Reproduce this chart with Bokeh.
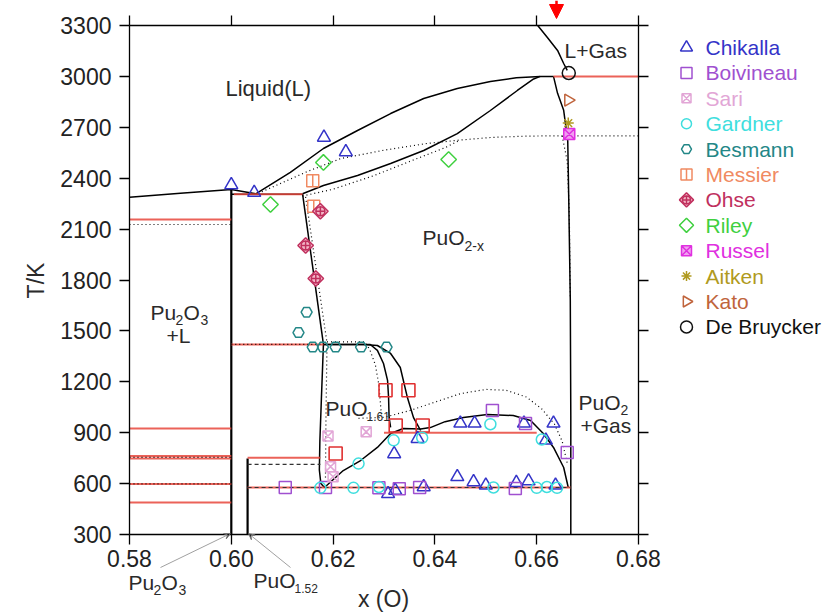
import math
from bokeh.plotting import figure
from bokeh.models import (LinearAxis, Label, Arrow, NormalHead, VeeHead,
                          FixedTicker, PrintfTickFormatter, CustomJSTickFormatter, Range1d)
from bokeh.core.properties import value
from bokeh.embed import file_html
from bokeh.resources import INLINE

FONT = "Liberation Sans"

# ---------------- axes ----------------
x_min, x_max = 0.58, 0.68
T_min, T_max = 300, 3300
x_ticks = [0.58, 0.60, 0.62, 0.64, 0.66, 0.68]
y_ticks = [300, 600, 900, 1200, 1500, 1800, 2100, 2400, 2700, 3000, 3300]

# ---------------- solid phase boundaries ----------------
liq_left_x = [0.58, 0.59, 0.60, 0.6048]
liq_left_T = [2287, 2311, 2334, 2308]
eut_x = [0.60, 0.6140]
eut_T = [2305, 2305]
liquidus_x = [0.6048, 0.6116, 0.6181, 0.6248, 0.6313, 0.6378, 0.6444, 0.6509, 0.6560, 0.6607, 0.6633]
liquidus_T = [2308, 2434, 2575, 2681, 2781, 2870, 2929, 2970, 2992, 3000, 3000]
solidus_x = [0.6140, 0.6181, 0.6248, 0.6313, 0.6378, 0.6444, 0.6509, 0.6562, 0.6594, 0.6607]
solidus_T = [2308, 2357, 2416, 2487, 2563, 2663, 2799, 2917, 2985, 3000]
right_x = [0.6633, 0.6641, 0.6653, 0.6661, 0.6663, 0.6666, 0.6667, 0.6667]
right_T = [3000, 2900, 2800, 2620, 2270, 1680, 1000, 300]
gas_x = [0.6602, 0.6621, 0.6641, 0.6653, 0.6660]
gas_T = [3300, 3229, 3153, 3076, 3035]
pu2o3_x = [0.60, 0.60]
pu2o3_T = [300, 2334]
puo152_x = [0.6032, 0.6032]
puo152_T = [300, 748]
puo2x_left_x = [0.6140, 0.6181]
puo2x_left_T = [2308, 1420]
puo161_left_x = [0.6181, 0.6177, 0.6174, 0.6173, 0.6176, 0.6183]
puo161_left_T = [1420, 1100, 850, 680, 600, 577]
puo161_right_x = [0.6181, 0.6273, 0.6287, 0.6299, 0.6307, 0.6309, 0.6310, 0.6313]
puo161_right_T = [1420, 1420, 1385, 1308, 1208, 1107, 990, 931]
outer_x = [0.6181, 0.6260, 0.6287, 0.6313, 0.6332, 0.6346, 0.6358, 0.6372]
outer_T = [1420, 1420, 1414, 1367, 1284, 1107, 989, 913]
dome_x = [0.6183, 0.6220, 0.6254, 0.6287, 0.6313, 0.6338, 0.6372, 0.6391, 0.6420, 0.6456,
          0.6503, 0.6554, 0.6588, 0.6613, 0.6633, 0.6653, 0.6662]
dome_T = [577, 677, 736, 813, 895, 925, 922, 930, 965, 990,
          1007, 1001, 972, 895, 813, 695, 577]

# ---------------- red invariant lines ----------------
red_lines = [
    ([0.6633, 0.68], [3000, 3000]),
    ([0.6005, 0.6140], [2305, 2305]),
    ([0.58, 0.60], [2157, 2157]),
    ([0.60, 0.6181], [1420, 1420]),
    ([0.58, 0.60], [925, 925]),
    ([0.58, 0.60], [762, 762]),
    ([0.58, 0.60], [748, 748]),
    ([0.58, 0.60], [598, 598]),
    ([0.58, 0.60], [488, 488]),
    ([0.6032, 0.6175], [752, 752]),
    ([0.6032, 0.6667], [577, 577]),
    ([0.6300, 0.6600], [900, 900]),
]

# ---------------- dotted (second assessment) ----------------
dot_lines = [
    ([0.58, 0.60], [2127, 2127]),
    ([0.58, 0.60], [755, 755]),
    ([0.58, 0.60], [598, 598]),
    ([0.60, 0.6181], [1420, 1420]),
    ([0.6060, 0.6150, 0.6215, 0.6300, 0.6385, 0.6450, 0.6509, 0.6580, 0.6647, 0.68],
     [2320, 2440, 2516, 2565, 2605, 2625, 2640, 2648, 2650, 2650]),
    ([0.6140, 0.6200, 0.6280, 0.6360, 0.6420, 0.6450],
     [2295, 2335, 2415, 2510, 2580, 2625]),
    ([0.6650, 0.6660, 0.6664, 0.6666], [2650, 2500, 2200, 1700]),
    ([0.6146, 0.6188], [2290, 1430]),
    ([0.6188, 0.6262, 0.6272, 0.6283, 0.6290, 0.6295], [1435, 1435, 1390, 1300, 1180, 1000]),
    ([0.6188, 0.6186, 0.6185], [1420, 1000, 620]),
    ([0.6250, 0.6300, 0.6350, 0.6400, 0.6450, 0.6500, 0.6540, 0.6580, 0.6610, 0.6635, 0.6650, 0.6660],
     [985, 990, 1030, 1080, 1130, 1155, 1150, 1110, 1040, 950, 850, 720]),
]
dash_lines = [
    ([0.6032, 0.6175], [713, 713]),
    ([0.6032, 0.6667], [577, 577]),
]

# ---------------- experimental data ----------------
chikalla_x = [0.6000, 0.6045, 0.6182, 0.6225, 0.6320, 0.6366, 0.6308, 0.6322, 0.6378, 0.6450,
              0.6478, 0.6575, 0.6633, 0.6618, 0.6444, 0.6476, 0.6584, 0.6637, 0.6560, 0.6500]
chikalla_T = [2360, 2315, 2640, 2555, 775, 865, 540, 560, 580, 955,
              955, 955, 955, 855, 640, 610, 615, 590, 605, 590]
boivineau_x = [0.6106, 0.6185, 0.6290, 0.6330, 0.6370, 0.6513, 0.6578, 0.6558, 0.6660]
boivineau_T = [577, 577, 575, 570, 577, 1031, 954, 571, 783]
sari_x = [0.6190, 0.6195, 0.6265, 0.6200]
sari_T = [880, 700, 905, 640]
gardner_x = [0.6175, 0.6240, 0.6290, 0.6250, 0.6319, 0.6509, 0.6515, 0.6600, 0.6620, 0.6640, 0.6375, 0.6610]
gardner_T = [575, 575, 580, 718, 855, 950, 577, 575, 580, 575, 870, 860]
besmann_x = [0.6132, 0.6148, 0.6160, 0.6180, 0.6205, 0.6255, 0.6305]
besmann_T = [1490, 1610, 1405, 1405, 1405, 1405, 1405]
messier_x = [0.6160, 0.6162]
messier_T = [2385, 2235]
ohse_x = [0.6175, 0.6146, 0.6166]
ohse_T = [2205, 2003, 1809]
riley_x = [0.6077, 0.6181, 0.6427]
riley_T = [2245, 2493, 2510]
russel_x = [0.6664]
russel_T = [2660]
aitken_x = [0.6662]
aitken_T = [2725]
kato_x = [0.6662]
kato_T = [2860]
debruycker_x = [0.6663]
debruycker_T = [3020]
redsq_x = [0.6205, 0.6303, 0.6348, 0.6323, 0.6376]
redsq_T = [777, 1150, 1150, 942, 942]

# ---------------- layout geometry (pixels) ----------------
W, H = 826, 613
PLOT_L, PLOT_R, PLOT_T, PLOT_B = 129, 638, 25, 534
kx = (x_max - x_min) / (PLOT_R - PLOT_L)
ky = (T_max - T_min) / (PLOT_B - PLOT_T)
xr = Range1d(x_min - PLOT_L * kx, x_max + (W - PLOT_R) * kx)
yr = Range1d(T_min - (H - PLOT_B) * ky, T_max + PLOT_T * ky)

def px_x(px):
    return x_min + (px - PLOT_L) * kx

def px_y(py):
    return T_max - (py - PLOT_T) * ky

p = figure(width=W, height=H, x_range=xr, y_range=yr,
           output_backend="svg", toolbar_location=None, min_border=0)
p.grid.visible = False
p.outline_line_color = None
p.background_fill_color = "white"
p.border_fill_color = "white"

def style_axis(ax):
    ax.axis_line_color = "black"
    ax.axis_line_width = 1.3
    ax.major_tick_line_color = "black"
    ax.major_tick_line_width = 1.3
    ax.major_tick_out = 10
    ax.major_tick_in = 0
    ax.minor_tick_line_color = None
    ax.major_label_text_font = FONT
    ax.major_label_text_font_size = "23px"
    ax.major_label_text_color = "#222222"

bottom = p.xaxis[0]
left = p.yaxis[0]
bottom.ticker = FixedTicker(ticks=x_ticks)
bottom.formatter = PrintfTickFormatter(format="%.2f")
bottom.fixed_location = T_min
bottom.bounds = (x_min, x_max)
left.ticker = FixedTicker(ticks=y_ticks)
left.fixed_location = x_min
left.bounds = (T_min, T_max)
style_axis(bottom); style_axis(left)
bottom.major_label_standoff = 5
left.major_label_standoff = 8

top = LinearAxis(ticker=FixedTicker(ticks=x_ticks), formatter=CustomJSTickFormatter(code="return ''"),
                 fixed_location=T_max, bounds=(x_min, x_max))
right = LinearAxis(ticker=FixedTicker(ticks=y_ticks), formatter=CustomJSTickFormatter(code="return ''"),
                   fixed_location=x_max, bounds=(T_min, T_max))
for ax in (top, right):
    style_axis(ax)
    ax.major_label_standoff = 0
p.add_layout(top, "above")
p.add_layout(right, "right")

# lines
BLACK = "black"
RED = "#e8463c"
for xs, ts in [(liq_left_x, liq_left_T), (eut_x, eut_T), (liquidus_x, liquidus_T), (solidus_x, solidus_T),
               (right_x, right_T), (gas_x, gas_T),
               (puo2x_left_x, puo2x_left_T), (puo161_left_x, puo161_left_T),
               (puo161_right_x, puo161_right_T), (outer_x, outer_T), (dome_x, dome_T)]:
    p.line(xs, ts, line_color=BLACK, line_width=1.5)
p.line(pu2o3_x, pu2o3_T, line_color=BLACK, line_width=2.2)
p.line(puo152_x, puo152_T, line_color=BLACK, line_width=2.2)
for xs, ts in red_lines:
    p.line(xs, ts, line_color=RED, line_width=2, alpha=0.85)
for xs, ts in dot_lines:
    p.line(xs, ts, line_color=BLACK, line_width=1.2, line_dash="1 3")
for xs, ts in dash_lines:
    p.line(xs, ts, line_color="#333333", line_width=1.2, line_dash="4 3")

# markers + legend entries drawn in the right margin
LEG_X, LEG_TX, LEG_Y0, LEG_DY = 686, 705, 47, 25.4
series = []

def draw(xs, ts, color, marker, size, fill=None, lw=1.5, angle=0.0, extra=None):
    p.scatter(x=xs, y=ts, marker=marker, size=size, line_color=color,
              fill_color=fill if fill else None, line_width=lw, angle=angle)
    if extra:
        p.scatter(x=xs, y=ts, marker=extra[0], size=extra[1], line_color=color,
                  fill_color=None, line_width=lw, angle=extra[2])

def add(name, xs, ts, color, marker, size, **kw):
    draw(xs, ts, color, marker, size, **kw)
    i = len(series)
    series.append(name)
    lx, ly = [px_x(LEG_X)], [px_y(LEG_Y0 + LEG_DY * i)]
    kw2 = dict(kw)
    if "extra" in kw2 and kw2["extra"]:
        e = kw2["extra"]
        kw2["extra"] = (e[0], e[1] - 1, e[2])
    draw(lx, ly, color, marker, size - 1, **kw2)
    p.text(x=[px_x(LEG_TX)], y=ly, text=[name], text_color=color, text_font=value(FONT),
           text_font_size="21px", text_baseline="middle", text_align="left")

p.scatter(redsq_x, redsq_T, marker="square", size=13, line_color="#e03030", fill_color=None, line_width=1.6)
add("Chikalla", chikalla_x, chikalla_T, "#3434c8", "triangle", 13)
add("Boivineau", boivineau_x, boivineau_T, "#a050d0", "square", 12)
add("Sari", sari_x, sari_T, "#e2a6d6", "square_x", 10)
add("Gardner", gardner_x, gardner_T, "#3fdede", "circle", 11)
add("Besmann", besmann_x, besmann_T, "#238787", "hex", 11)
add("Messier", messier_x, messier_T, "#f08a62", "square", 12, extra=("dash", 12, math.pi / 2))
add("Ohse", ohse_x, ohse_T, "#c0305e", "square", 11, fill="#f4b8c8", angle=math.pi / 4,
    extra=("circle_cross", 9, 0.0))
add("Riley", riley_x, riley_T, "#3fd03f", "square", 11, angle=math.pi / 4)
add("Russel", russel_x, russel_T, "#e030e0", "square_x", 11, fill="#f0a0f0")
add("Aitken", aitken_x, aitken_T, "#b09a20", "asterisk", 11)
add("Kato", kato_x, kato_T, "#c0643c", "triangle", 12, angle=-math.pi / 2)
add("De Bruycker", debruycker_x, debruycker_T, "#111111", "circle", 13)

# text labels
def lab(x, y, text, size="21px", align="left", xo=0, yo=0, angle=0, color="#2a2a2a"):
    p.add_layout(Label(x=x, y=y, text=text, text_font=FONT, text_font_size=size, text_color=color,
                       text_align=align, text_baseline="middle", x_offset=xo, y_offset=yo, angle=angle))

lab(px_x(225), px_y(88), "Liquid(L)", size="22px")
lab(px_x(564), px_y(50), "L+Gas")
lab(px_x(422), px_y(237), "PuO")
lab(px_x(422), px_y(237), "2-x", size="14px", xo=42, yo=-8)
lab(px_x(150), px_y(312), "Pu")
lab(px_x(150), px_y(312), "2", size="14px", xo=25, yo=-7)
lab(px_x(150), px_y(312), "O", xo=33)
lab(px_x(150), px_y(312), "3", size="14px", xo=50, yo=-7)
lab(px_x(178), px_y(335), "+L", align="center")
lab(px_x(325), px_y(408), "PuO")
lab(px_x(325), px_y(408), "1.61", size="12px", xo=41, yo=-8)
lab(px_x(578), px_y(402), "PuO")
lab(px_x(578), px_y(402), "2", size="14px", xo=42, yo=-7)
lab(px_x(580), px_y(425), "+Gas")
lab(px_x(128), px_y(582), "Pu")
lab(px_x(128), px_y(582), "2", size="14px", xo=25, yo=-7)
lab(px_x(128), px_y(582), "O", xo=33)
lab(px_x(128), px_y(582), "3", size="14px", xo=50, yo=-7)
lab(px_x(253), px_y(580), "PuO")
lab(px_x(253), px_y(580), "1.52", size="12px", xo=41, yo=-8)
lab(px_x(383), px_y(598), "x (O)", size="23px", align="center")
lab(px_x(35), px_y(280), "T/K", size="23px", align="center", angle=math.pi / 2)

# leader lines to the two compositions on the x axis
p.add_layout(Arrow(end=VeeHead(size=6, line_color="#777777", line_width=1), x_start=px_x(160), y_start=px_y(567),
                   x_end=0.5998, y_end=T_min + 5, line_color="#888888", line_width=0.8))
p.add_layout(Arrow(end=VeeHead(size=6, line_color="#777777", line_width=1), x_start=px_x(290), y_start=px_y(567),
                   x_end=0.6034, y_end=T_min + 5, line_color="#888888", line_width=0.8))
# red marker arrow at the top
p.add_layout(Arrow(end=NormalHead(size=14, fill_color="red", line_color="red"), x_start=px_x(556), y_start=px_y(0),
                   x_end=px_x(556), y_end=px_y(18), line_color="red", line_width=2.5))

open("out.html", "w").write(file_html(p, INLINE))
